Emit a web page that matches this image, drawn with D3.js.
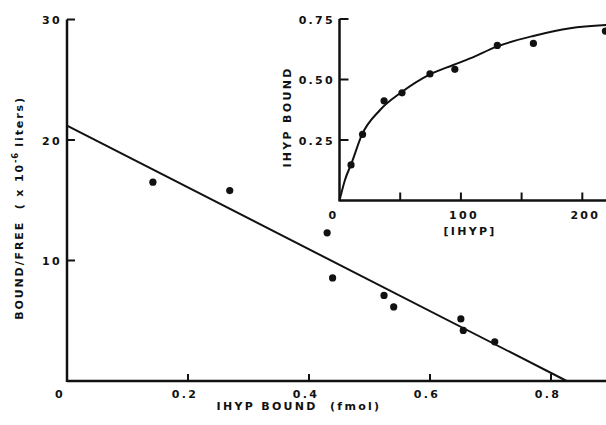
<!DOCTYPE html>
<html>
<head>
<meta charset="utf-8">
<script src="https://cdn.jsdelivr.net/npm/d3@7"></script>
<style>
  body { margin: 0; background: #fff; }
  text { font-family: "DejaVu Sans", sans-serif; font-weight: bold; fill: #111; }
</style>
</head>
<body>
<svg id="chart" width="606" height="425"></svg>
<script>
// main scatchard plot
var mainX = [0.142, 0.269, 0.430, 0.439, 0.524, 0.540, 0.651, 0.655, 0.707];
var mainY = [16.5, 15.8, 12.3, 8.55, 7.1, 6.15, 5.15, 4.2, 3.25];
var fitX = [0, 0.826];
var fitY = [21.2, 0];
var mainXTicks = [0.2, 0.4, 0.6, 0.8];
var mainYTicks = [10, 20, 30];

// inset saturation curve
var insetX = [9.5, 19, 36.7, 51.5, 74.5, 95, 130, 159.7, 219];
var insetY = [0.147, 0.273, 0.412, 0.445, 0.523, 0.542, 0.641, 0.649, 0.70];
var curveX = [0, 4.5, 10, 18.3, 33.4, 50.7, 74.5, 93.7, 107.5, 129.5, 159.6, 190, 220];
var curveY = [0, 0.085, 0.155, 0.27, 0.374, 0.446, 0.521, 0.56, 0.587, 0.636, 0.68, 0.712, 0.725];
var insetXTicks = [50, 100, 150, 200];
var insetXLabels = [0, 100, 200];
var insetYTicks = [0.25, 0.50, 0.75];

var svg = d3.select("#chart");
var ink = "#111";
var fs = "11px", ls = "2.3px";

//Scales for the main plot
var x = d3.scaleLinear().domain([0, 0.9]).range([67, 611.5]);
var y = d3.scaleLinear().domain([0, 30]).range([381, 19.5]);

//axes drawn by hand, ticks point inward
svg.append("line").attr("x1", x(0)).attr("x2", 606).attr("y1", y(0)).attr("y2", y(0))
    .style("stroke", ink).style("stroke-width", 2.5);
svg.append("line").attr("x1", x(0)).attr("x2", x(0)).attr("y1", y(0) + 1).attr("y2", y(30))
    .style("stroke", ink).style("stroke-width", 2.5);

svg.selectAll(".xtick").data(mainXTicks).enter().append("line")
    .attr("x1", function(d) { return x(d); }).attr("x2", function(d) { return x(d); })
    .attr("y1", y(0)).attr("y2", y(0) - 7)
    .style("stroke", ink).style("stroke-width", 2);
svg.selectAll(".xlab").data([0].concat(mainXTicks)).enter().append("text")
    .attr("x", function(d) { return d === 0 ? x(d) - 7 : x(d) - 3; })
    .attr("y", 398)
    .attr("text-anchor", "middle")
    .style("font-size", fs).style("letter-spacing", ls)
    .text(function(d) { return d === 0 ? "0" : d3.format(".1f")(d); });

svg.selectAll(".ytick").data(mainYTicks).enter().append("line")
    .attr("x1", x(0)).attr("x2", x(0) + 8)
    .attr("y1", function(d) { return y(d); }).attr("y2", function(d) { return y(d); })
    .style("stroke", ink).style("stroke-width", 2);
svg.selectAll(".ylab").data(mainYTicks).enter().append("text")
    .attr("x", 62).attr("y", function(d) { return y(d) + 4.5; })
    .attr("text-anchor", "end")
    .style("font-size", fs).style("letter-spacing", ls)
    .text(function(d) { return d; });

//axis titles
svg.append("text").attr("x", 299).attr("y", 410).attr("text-anchor", "middle")
    .style("font-size", fs).style("letter-spacing", ls)
    .attr("xml:space", "preserve")
    .text("IHYP BOUND  (fmol)");
var yt = svg.append("text").attr("transform", "translate(23,208) rotate(-90)")
    .attr("text-anchor", "middle")
    .style("font-size", fs).style("letter-spacing", "1.9px")
    .attr("xml:space", "preserve");
yt.append("tspan").text("BOUND/FREE  ( x 10");
yt.append("tspan").attr("dy", -5).style("font-size", "8.5px").style("letter-spacing", "0.5px").text("-6");
yt.append("tspan").attr("dy", 5).text(" liters)");

//fit line and points
var line = d3.line().x(function(d) { return x(d[0]); }).y(function(d) { return y(d[1]); });
svg.append("path").attr("d", line(d3.zip(fitX, fitY)))
    .style("fill", "none").style("stroke", ink).style("stroke-width", 2);
svg.selectAll(".dot").data(d3.zip(mainX, mainY)).enter().append("circle")
    .attr("cx", function(d) { return x(d[0]); })
    .attr("cy", function(d) { return y(d[1]); })
    .attr("r", 3.6)
    .style("fill", ink);

//Scales for the inset
var ix = d3.scaleLinear().domain([0, 220]).range([339.5, 606.6]);
var iy = d3.scaleLinear().domain([0, 0.75]).range([200.5, 19]);

svg.append("line").attr("x1", ix(0)).attr("x2", 606).attr("y1", iy(0)).attr("y2", iy(0))
    .style("stroke", ink).style("stroke-width", 2.5);
svg.append("line").attr("x1", ix(0)).attr("x2", ix(0)).attr("y1", iy(0) + 1).attr("y2", iy(0.75))
    .style("stroke", ink).style("stroke-width", 2.5);
svg.selectAll(".ixtick").data(insetXTicks).enter().append("line")
    .attr("x1", function(d) { return ix(d); }).attr("x2", function(d) { return ix(d); })
    .attr("y1", iy(0)).attr("y2", iy(0) - 8)
    .style("stroke", ink).style("stroke-width", 2);
svg.selectAll(".ixlab").data(insetXLabels).enter().append("text")
    .attr("x", function(d) { return d === 0 ? ix(d) - 6 : ix(d) + 3; })
    .attr("y", 219)
    .attr("text-anchor", "middle")
    .style("font-size", fs).style("letter-spacing", ls)
    .text(function(d) { return d; });
svg.selectAll(".iytick").data(insetYTicks).enter().append("line")
    .attr("x1", ix(0)).attr("x2", ix(0) + 9)
    .attr("y1", function(d) { return iy(d); }).attr("y2", function(d) { return iy(d); })
    .style("stroke", ink).style("stroke-width", 2);
svg.selectAll(".iylab").data(insetYTicks).enter().append("text")
    .attr("x", 335).attr("y", function(d) { return iy(d) + 4.5; })
    .attr("text-anchor", "end")
    .style("font-size", fs).style("letter-spacing", ls)
    .text(function(d) { return d3.format(".2f")(d); });

svg.append("text").attr("x", 470).attr("y", 235).attr("text-anchor", "middle")
    .style("font-size", fs).style("letter-spacing", ls)
    .text("[IHYP]");
svg.append("text").attr("transform", "translate(291,117) rotate(-90)")
    .attr("text-anchor", "middle")
    .style("font-size", fs).style("letter-spacing", ls)
    .text("IHYP BOUND");

var iline = d3.line().curve(d3.curveMonotoneX)
    .x(function(d) { return ix(d[0]); }).y(function(d) { return iy(d[1]); });
svg.append("path").attr("d", iline(d3.zip(curveX, curveY)))
    .style("fill", "none").style("stroke", ink).style("stroke-width", 2);
svg.selectAll(".idot").data(d3.zip(insetX, insetY)).enter().append("circle")
    .attr("cx", function(d) { return ix(d[0]); })
    .attr("cy", function(d) { return iy(d[1]); })
    .attr("r", 3.6)
    .style("fill", ink);
</script>
</body>
</html>
